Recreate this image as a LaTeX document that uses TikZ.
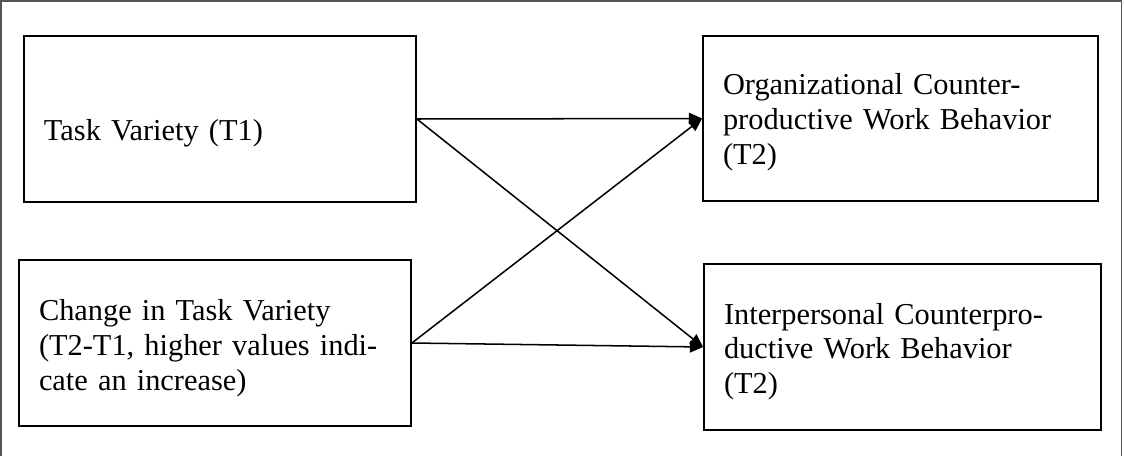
\documentclass[tikz,border=0pt]{standalone}
\usepackage{fontspec}
\setmainfont{Liberation Serif}
\usetikzlibrary{arrows.meta}
\definecolor{frame}{HTML}{555555}
\newcommand\pxl{0.395pt}

\begin{document}
\begin{tikzpicture}[x=\pxl,y=\pxl,
  box/.style={draw,line width=0.7pt,inner xsep=20*\pxl,align=left,
    font=\fontsize{12}{13.8}\selectfont},
  lower/.style={execute at begin node={\rule{0pt}{#1}}},
  path/.style={line width=0.6pt,-{Triangle[length=5.2pt,width=4.5pt]}}]
\useasboundingbox (0,0) rectangle (1125,456);
% open frame round the figure
\draw[frame,line width=0.5pt] (1,0) -- (1,455) -- (1121.5,455) -- (1121.5,0);
% predictors on the left
\node[box,lower=19.5pt,minimum width=392*\pxl,minimum height=166*\pxl,text width=352*\pxl] (tv) at (220,337) {Task Variety (T1)};
\node[box,lower=12.5pt,minimum width=392*\pxl,minimum height=166*\pxl,text width=352*\pxl] (dtv) at (215,113)
  {Change in Task Variety\\(T2-T1, higher values indi-\\cate an increase)};
% outcomes on the right
\node[box,lower=11.5pt,minimum width=395*\pxl,minimum height=165*\pxl,text width=355*\pxl] (ocwb) at (900.5,337.5)
  {Organizational Counter-\\productive Work Behavior\\(T2)};
\node[box,lower=12pt,minimum width=397*\pxl,minimum height=166*\pxl,text width=357*\pxl] (icwb) at (902.5,109)
  {Interpersonal Counterpro-\\ductive Work Behavior\\(T2)};
% paths
\draw[path] (tv.east) -- (ocwb.west);
\draw[path] (tv.east) -- (icwb.west);
\draw[path] (dtv.east) -- (ocwb.west);
\draw[path] (dtv.east) -- (icwb.west);
\end{tikzpicture}
\end{document}
